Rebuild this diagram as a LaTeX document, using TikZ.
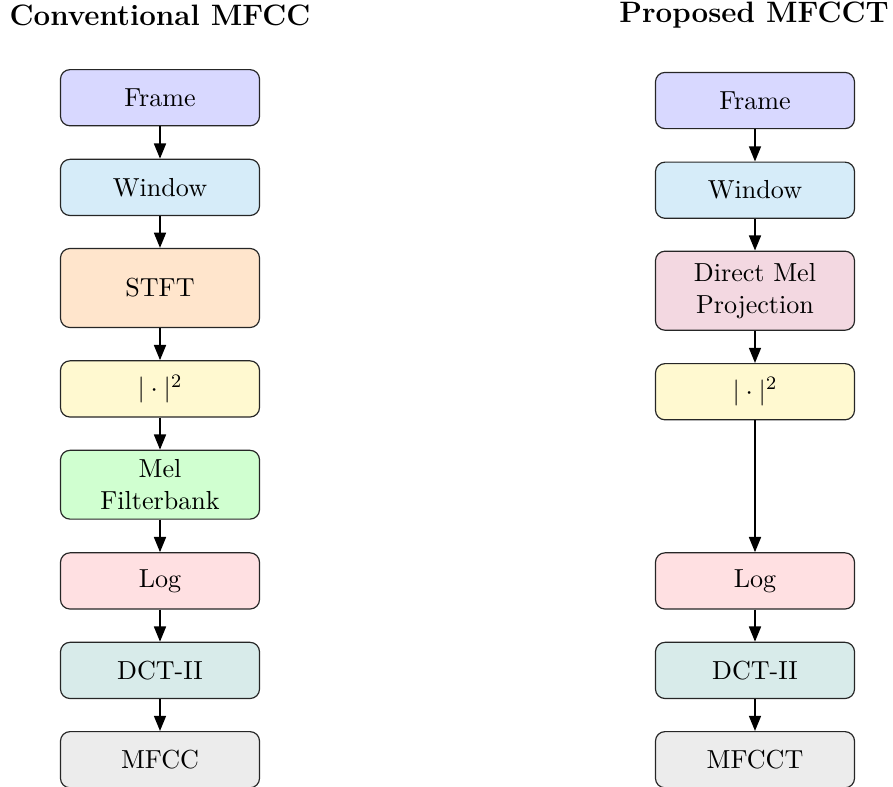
\documentclass[tikz,border=0pt]{standalone}
\usetikzlibrary{arrows.meta}
\definecolor{frameC}{RGB}{216,216,255}
\definecolor{windowC}{RGB}{214,236,249}
\definecolor{stftC}{RGB}{255,229,204}
\definecolor{powC}{RGB}{255,249,208}
\definecolor{melC}{RGB}{208,255,208}
\definecolor{logC}{RGB}{255,224,226}
\definecolor{dctC}{RGB}{216,235,234}
\definecolor{outC}{RGB}{236,236,236}
\definecolor{dmpC}{RGB}{243,216,225}
\tikzset{
  blk/.style={draw=black!85, line width=0.5pt, rounded corners=4pt,
    minimum width=83.6pt, minimum height=23.6pt, align=center,
    inner sep=2pt, font=\fontsize{10.95}{13.4}\selectfont},
  tall/.style={minimum height=33.2pt},
  mid/.style={minimum height=28.9pt},
  flow/.style={-{Triangle[length=6.4pt,width=5pt]}, line width=0.85pt},
  ttl/.style={anchor=base, font=\fontsize{12.4}{14.5}\selectfont\bfseries}
}
\begin{document}
\begin{tikzpicture}[x=0.42pt,y=-0.42pt]
\clip (0,0) rectangle (893,786);
\useasboundingbox (0,0) rectangle (893,786);
% titles
\node[ttl] (tl) at (160,25) {Conventional MFCC};
\node[ttl] (tr) at (754,22.7) {Proposed MFCCT};
% left column
\node[blk, fill=frameC] (lf) at (160,97.7) {Frame};
\node[blk, fill=windowC] (lw) at (160,187.4) {Window};
\node[blk, tall, fill=stftC] (ls) at (160,288) {STFT};
\node[blk, fill=powC] (lp) at (160,388.9) {$|\cdot|^2$};
\node[blk, mid, fill=melC] (lm) at (160,484.7) {Mel\\Filterbank};
\node[blk, fill=logC] (ll) at (160,580.9) {Log};
\node[blk, fill=dctC] (ld) at (160,670.4) {DCT-II};
\node[blk, fill=outC] (lo) at (160,759.7) {MFCC};
% right column
\node[blk, fill=frameC] (rf) at (755,100.5) {Frame};
\node[blk, fill=windowC] (rw) at (755,190.2) {Window};
\node[blk, tall, fill=dmpC] (rm) at (755,290.7) {Direct Mel\\Projection};
\node[blk, fill=powC] (rp) at (755,391.7) {$|\cdot|^2$};
\node[blk, fill=logC] (rl) at (755,580.9) {Log};
\node[blk, fill=dctC] (rd) at (755,670.4) {DCT-II};
\node[blk, fill=outC] (ro) at (755,759.7) {MFCCT};
% arrows
\foreach \a/\b in {lf/lw, lw/ls, ls/lp, lp/lm, lm/ll, ll/ld, ld/lo,
                   rf/rw, rw/rm, rm/rp, rp/rl, rl/rd, rd/ro}
  \draw[flow] (\a) -- (\b);
\end{tikzpicture}
\end{document}
